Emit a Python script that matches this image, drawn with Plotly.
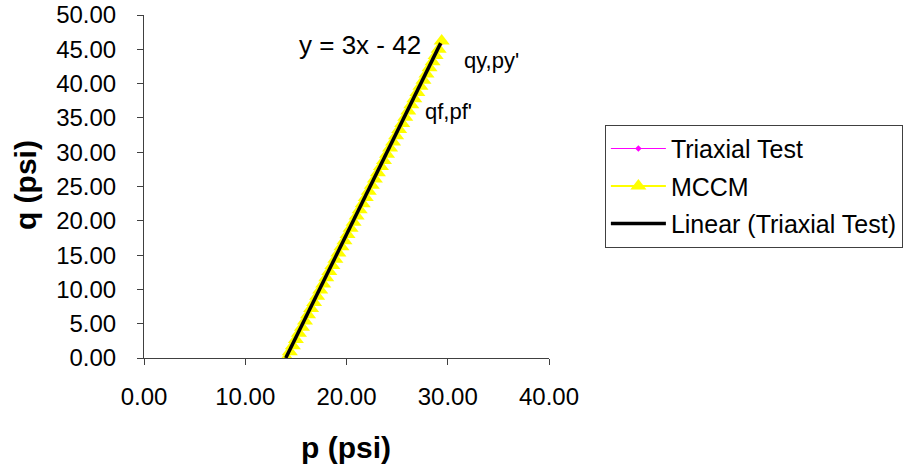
import numpy as np
import plotly.graph_objects as go

# Triaxial Test data (p', q) in psi
tri_p = [14.0, 15.0, 16.5, 18.0, 19.5, 21.0, 22.5, 24.0, 25.5, 27.0, 28.0, 29.3]
tri_q = [0.0, 3.0, 7.5, 12.0, 16.5, 21.0, 25.5, 30.0, 34.5, 39.0, 42.0, 45.9]

# MCCM predicted stress path (p', q) in psi
mccm_p = [14.1, 14.4, 14.7, 15.0, 15.3, 15.6, 15.9, 16.2, 16.5, 16.8, 17.1, 17.4, 17.7,
          18.0, 18.3, 18.6, 18.9, 19.2, 19.5, 19.8, 20.1, 20.4, 20.7, 21.0, 21.3, 21.6,
          21.9, 22.2, 22.5, 22.8, 23.1, 23.4, 23.7, 24.0, 24.3, 24.6, 24.9, 25.2, 25.5,
          25.8, 26.1, 26.4, 26.7, 27.0, 27.3, 27.6, 27.9, 28.2, 28.5, 28.8, 29.1, 29.4]
mccm_q = [0.0, 0.9, 1.8, 2.7, 3.6, 4.5, 5.4, 6.3, 7.2, 8.1, 9.0, 9.9, 10.8,
          11.7, 12.6, 13.5, 14.4, 15.3, 16.2, 17.1, 18.0, 18.9, 19.8, 20.7, 21.6, 22.5,
          23.4, 24.3, 25.2, 26.1, 27.0, 27.9, 28.8, 29.7, 30.6, 31.5, 32.4, 33.3, 34.2,
          35.1, 36.0, 36.9, 37.8, 38.7, 39.6, 40.5, 41.4, 42.3, 43.2, 44.1, 45.0, 46.2]

x_ticks = [0, 10, 20, 30, 40]
y_ticks = [0, 5, 10, 15, 20, 25, 30, 35, 40, 45, 50]

FONT = "Liberation Sans, Arial, sans-serif"

# linear trendline of triaxial test
slope, intercept = np.polyfit(tri_p, tri_q, 1)
fit_x = [min(tri_p), max(tri_p)]
fit_y = [slope * v + intercept for v in fit_x]

fig = go.Figure()
fig.add_trace(go.Scatter(
    x=tri_p, y=tri_q, mode="lines+markers", name="Triaxial Test", legendgroup="a",
    line=dict(color="#FF00FF", width=1),
    marker=dict(symbol="diamond", size=5, color="#FF00FF"),
))
fig.add_trace(go.Scatter(
    x=mccm_p, y=mccm_q, mode="lines+markers", name="MCCM", legendgroup="b",
    line=dict(color="#FFFF00", width=2),
    marker=dict(symbol="triangle-up", size=14, color="#FFFF00"),
))
fig.add_trace(go.Scatter(
    x=fit_x, y=fit_y, mode="lines", name="Linear (Triaxial Test)", legendgroup="c",
    line=dict(color="#000000", width=3.5),
))

fig.add_annotation(x=21.3, y=45.6, xref="x", yref="y", text="y = 3x - 42",
                   showarrow=False, font=dict(family=FONT, size=26, color="black"))
fig.add_annotation(x=34.3, y=43.4, xref="x", yref="y", text="qy,py'",
                   showarrow=False, font=dict(family=FONT, size=22, color="black"))
fig.add_annotation(x=30.1, y=35.9, xref="x", yref="y", text="qf,pf'",
                   showarrow=False, font=dict(family=FONT, size=22, color="black"))

# axis titles
fig.add_annotation(x=-0.294, y=0.504, xref="paper", yref="paper", text="<b>q (psi)</b>",
                   textangle=-90, xanchor="center", yanchor="middle", showarrow=False,
                   font=dict(family=FONT, size=30, color="black"))
fig.add_annotation(x=0.499, y=-0.262, xref="paper", yref="paper", text="<b>p (psi)</b>",
                   xanchor="center", yanchor="middle", showarrow=False,
                   font=dict(family=FONT, size=30, color="black"))

fig.update_layout(
    width=903, height=471,
    margin=dict(l=144, r=354, t=15, b=113, autoexpand=False),
    paper_bgcolor="white", plot_bgcolor="white",
    font=dict(family=FONT, size=24, color="black"),
    showlegend=True,
    legend=dict(
        x=1.138, y=0.68, xanchor="left", yanchor="top",
        bordercolor="#404040", borderwidth=1, bgcolor="white",
        font=dict(family=FONT, size=25, color="black"),
        itemwidth=55, tracegroupgap=2,
    ),
    xaxis=dict(
        range=[0, 40], tickvals=x_ticks, ticktext=[f"{v:.2f}" for v in x_ticks],
        showgrid=False, zeroline=False, showline=True, linecolor="#404040", linewidth=1,
        ticks="outside", ticklen=6, tickcolor="#404040", ticklabelstandoff=11,
        automargin=False, ticklabeloverflow="allow",
    ),
    yaxis=dict(
        range=[0, 50], tickvals=y_ticks, ticktext=[f"{v:.2f}" for v in y_ticks],
        showgrid=False, zeroline=False, showline=True, linecolor="#404040", linewidth=1,
        ticks="outside", ticklen=6, tickcolor="#404040", ticklabelstandoff=16,
        automargin=False, ticklabeloverflow="allow",
    ),
)

# remove the default 8px page margin so the figure fills the window exactly
fig.write_html("out.html", config={"displayModeBar": False},
               post_script="document.body.style.margin='0';")
